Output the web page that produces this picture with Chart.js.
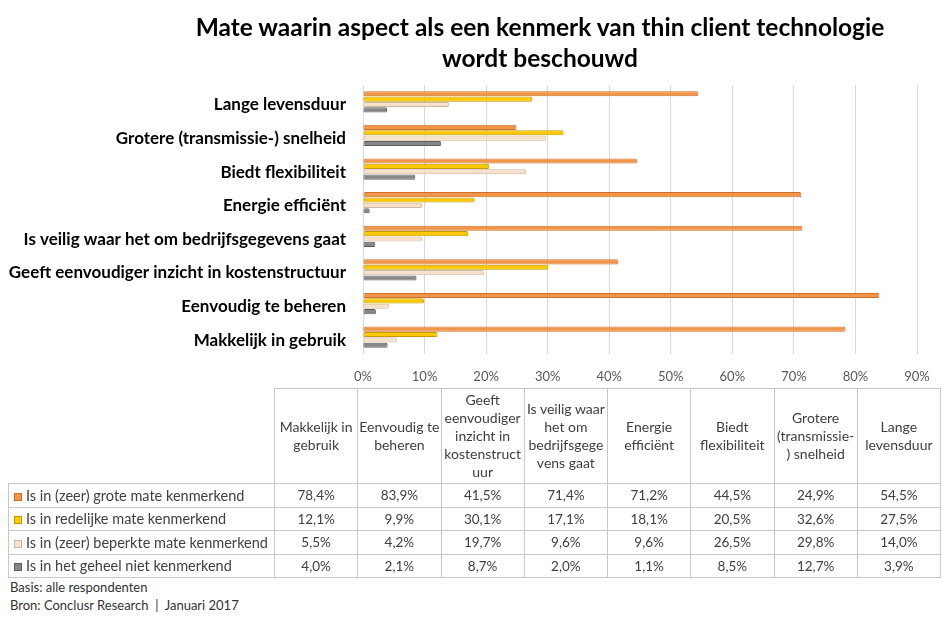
<!DOCTYPE html>
<html>
<head>
<meta charset="utf-8">
<script src="https://cdn.jsdelivr.net/npm/chart.js@4.4.1/dist/chart.umd.min.js"></script>
<style>
  html, body { margin: 0; padding: 0; background: #fff; }
  #wrap { position: relative; width: 948px; height: 620px; overflow: hidden; font-family: Lato, "Open Sans", sans-serif; }
  #title { position: absolute; left: 0; top: 11px; width: 1080px; text-align: center; font-weight: 700; font-size: 24.5px; line-height: 31px; color: #000; }
  #chartBox { position: absolute; left: 0; top: 0; width: 948px; height: 394px; }
  #dataTable { position: absolute; left: 8px; top: 388px; width: 932px; border-collapse: collapse; table-layout: fixed; font-size: 13.5px; color: #404040; }
  #dataTable td, #dataTable th { border: 1px solid #c8c8c8; padding: 0; text-align: center; font-weight: 400; overflow: visible; }
  #dataTable th { height: 94px; line-height: 18px; white-space: pre; font-size: 14px; }
  #dataTable th.blank { border: none; }
  #dataTable td { height: 22.5px; }
  #dataTable td.name { text-align: left; padding-left: 5px; white-space: nowrap; font-size: 14.5px; }
  .swatch { display: inline-block; width: 8px; height: 8px; margin-right: 4px; vertical-align: 0px; box-sizing: border-box; }
  #notes { position: absolute; left: 10px; top: 578px; font-size: 13px; line-height: 18px; color: #333; }
</style>
</head>
<body>
<div id="wrap">
  <div id="chartBox"><canvas id="aspectChart"></canvas></div>
  <div id="title">Mate waarin aspect als een kenmerk van thin client technologie<br>wordt beschouwd</div>
  <table id="dataTable"></table>
  <div id="notes">Basis: alle respondenten<br>Bron: Conclusr Research&nbsp;&nbsp;|&nbsp;&nbsp;Januari 2017</div>
</div>
<script>
// categories in table order (Excel draws the first one at the bottom)
const categories = [
    'Makkelijk in gebruik',
    'Eenvoudig te beheren',
    'Geeft eenvoudiger inzicht in kostenstructuur',
    'Is veilig waar het om bedrijfsgegevens gaat',
    'Energie efficiënt',
    'Biedt flexibiliteit',
    'Grotere (transmissie-) snelheid',
    'Lange levensduur'
];

// table header, wrapped the way the picture wraps it
const tableHeads = [
    'Makkelijk in\ngebruik',
    'Eenvoudig te\nbeheren',
    'Geeft\neenvoudiger\ninzicht in\nkostenstruct\nuur',
    'Is veilig waar\nhet om\nbedrijfsgege\nvens gaat',
    'Energie\nefficiënt',
    'Biedt\nflexibiliteit',
    'Grotere\n(transmissie-\n) snelheid',
    'Lange\nlevensduur'
];

const seriesNames = [
    'Is in (zeer) grote mate kenmerkend',
    'Is in redelijke mate kenmerkend',
    'Is in (zeer) beperkte mate kenmerkend',
    'Is in het geheel niet kenmerkend'
];

const groteMate    = [78.4, 83.9, 41.5, 71.4, 71.2, 44.5, 24.9, 54.5];
const redelijkMate = [12.1, 9.9, 30.1, 17.1, 18.1, 20.5, 32.6, 27.5];
const beperkteMate = [5.5, 4.2, 19.7, 9.6, 9.6, 26.5, 29.8, 14.0];
const nietKenmerk  = [4.0, 2.1, 8.7, 2.0, 1.1, 8.5, 12.7, 3.9];

const xTicks = [0, 10, 20, 30, 40, 50, 60, 70, 80, 90];

const fills   = ['#f0964a', '#fcc800', '#f6e2ca', '#878787'];
const borders = ['#d06f28', '#c49a00', '#cdb99f', '#5c5c5c'];

const seriesValues = [groteMate, redelijkMate, beperkteMate, nietKenmerk];

const fmt = (v) => v.toFixed(1).replace('.', ',') + '%';

// --- chart ---
const chartFont = { family: "Lato, 'Open Sans', sans-serif" };

new Chart(document.getElementById('aspectChart'), {
    type: 'bar',
    data: {
        labels: categories,
        datasets: seriesValues.map((vals, i) => ({
            label: seriesNames[i],
            data: vals,
            backgroundColor: fills[i],
            borderColor: borders[i],
            borderWidth: 1,
            borderSkipped: false,
            borderRadius: 1.5,
            categoryPercentage: 0.64,
            barPercentage: 0.95
        }))
    },
    options: {
        indexAxis: 'y',
        responsive: true,
        maintainAspectRatio: false,
        animation: false,
        layout: { padding: { top: 85, right: 31, bottom: 0, left: 0 } },
        plugins: {
            legend: { display: false },
            tooltip: { enabled: false }
        },
        scales: {
            x: {
                min: 0,
                max: 90,
                afterBuildTicks: (scale) => { scale.ticks = xTicks.map(v => ({ value: v })); },
                afterFit: (scale) => { scale.height = 40; },
                grid: { color: '#d9d9d9', drawTicks: false },
                border: { display: false },
                ticks: {
                    padding: 15,
                    color: '#595959',
                    font: { ...chartFont, size: 13 },
                    callback: (v) => v + '%'
                }
            },
            y: {
                reverse: true,
                afterFit: (scale) => { scale.width = 363; },
                grid: { display: false, drawTicks: false },
                border: { display: false },
                ticks: {
                    padding: 17,
                    labelOffset: 3,
                    color: '#000',
                    font: { ...chartFont, size: 17, weight: '700' }
                }
            }
        }
    }
});

// --- data table under the chart ---
const table = document.getElementById('dataTable');
let html = '<colgroup><col style="width:266px">' +
    categories.map(() => '<col style="width:83.25px">').join('') + '</colgroup>';
html += '<tr><th class="blank"></th>' + tableHeads.map(h => '<th>' + h + '</th>').join('') + '</tr>';
seriesValues.forEach((vals, i) => {
    html += '<tr><td class="name"><span class="swatch" style="background:' + fills[i] +
        ';border:1px solid ' + borders[i] + '"></span>' + seriesNames[i] + '</td>' +
        vals.map(v => '<td>' + fmt(v) + '</td>').join('') + '</tr>';
});
table.innerHTML = html;
</script>
</body>
</html>
